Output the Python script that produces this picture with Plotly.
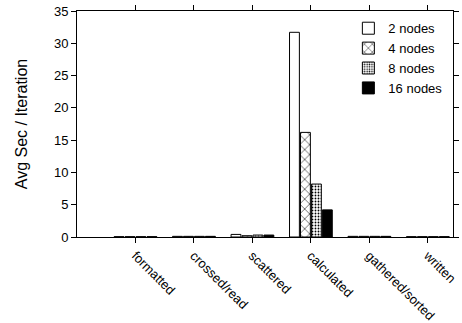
import plotly.graph_objects as go

categories = ["formatted", "crossed/read", "scattered", "calculated", "gathered/sorted", "written"]
series_names = ["2 nodes", "4 nodes", "8 nodes", "16 nodes"]
nodes2 = [0.05, 0.1, 0.4, 31.7, 0.1, 0.05]
nodes4 = [0.05, 0.1, 0.2, 16.2, 0.1, 0.05]
nodes8 = [0.05, 0.1, 0.3, 8.2, 0.1, 0.05]
nodes16 = [0.05, 0.1, 0.3, 4.2, 0.1, 0.05]
y_ticks = [0, 5, 10, 15, 20, 25, 30, 35]

series = [nodes2, nodes4, nodes8, nodes16]
patterns = [
    dict(shape="", fillmode="replace"),
    dict(shape="x", fgcolor="black", bgcolor="white", size=7, solidity=0.15, fillmode="replace"),
    dict(shape=".", fgcolor="black", bgcolor="white", size=3, solidity=0.3, fillmode="replace"),
    dict(shape="", fillmode="replace"),
]
colors = ["white", "white", "white", "black"]

fig = go.Figure()
for name, vals, pat, col in zip(series_names, series, patterns, colors):
    fig.add_trace(go.Bar(
        x=categories, y=vals, name=name,
        marker=dict(color=col, line=dict(color="black", width=1), pattern=pat),
    ))

font = dict(family="Liberation Sans, Arial, sans-serif", size=13, color="black")
fig.update_layout(
    width=462, height=323,
    margin=dict(l=77, r=9, t=11, b=86, autoexpand=False),
    paper_bgcolor="white", plot_bgcolor="white",
    font=font,
    barmode="group", bargap=0.25, bargroupgap=0.1,
    showlegend=True,
    legend=dict(x=0.985, y=0.99, xanchor="right", yanchor="top",
                bgcolor="rgba(0,0,0,0)", font=font,
                tracegroupgap=0, itemwidth=30),
)
fig.update_xaxes(
    type="category", range=[-1.0, 5.43], automargin=False,
    showline=True, linecolor="black", linewidth=1, mirror="ticks",
    ticks="outside", ticklen=5, tickcolor="black", tickangle=45,
    showgrid=False, zeroline=False,
)
fig.update_yaxes(
    range=[0, 35], tickvals=y_ticks, automargin=False,
    showline=True, linecolor="black", linewidth=1, mirror="ticks",
    ticks="outside", ticklen=5, tickcolor="black",
    showgrid=False, zeroline=False,
    title=dict(text="Avg Sec / Iteration", standoff=22),
)
fig.write_html("out.html", config={"displayModeBar": False},
               post_script="document.body.style.margin='0';document.body.style.overflow='hidden';")
